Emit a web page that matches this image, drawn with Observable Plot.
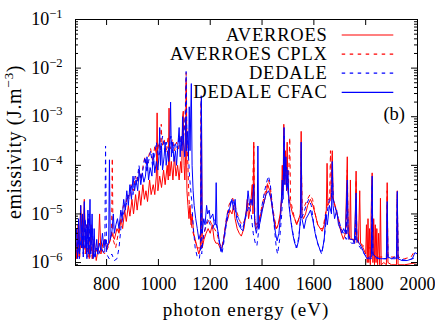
<!DOCTYPE html>
<html><head><meta charset="utf-8">
<script src="https://cdn.jsdelivr.net/npm/d3@7"></script>
<script src="https://cdn.jsdelivr.net/npm/@observablehq/plot@0.6"></script>
<style>body{margin:0;background:#fff}svg{display:block}</style>
</head><body><div id="chart"></div>
<script>
// [photon energy (eV), emissivity (J.m^-3)]
const averroes = [[680,3e-6],[684,1.2e-6],[690,6e-6],[694,1.3e-6],[700,1.5e-5],[708,2e-6],[714,2e-5],[720,1.5e-6],[728,8e-6],[733,1.2e-6],[740,6e-6],[746,1.2e-6],[752,3e-6],[760,1.1e-6],[768,2e-6],[773,1e-5],[778,1.5e-6],[786,2.5e-6],[792,3e-6],[800,2e-6],[810,2.5e-6],[820,4e-6],[830,3e-6],[840,5e-6],[848,4e-6],[856,8e-6],[862,5e-6],[870,1.2e-5],[876,7e-6],[884,1.5e-5],[890,9e-6],[898,2e-5],[904,1e-5],[912,2.5e-5],[918,1.2e-5],[926,3e-5],[932,1.5e-5],[940,4e-5],[946,2e-5],[952,3e-5],[958,1.8e-5],[966,5e-5],[972,2.5e-5],[980,4e-5],[986,2.5e-5],[992,6e-5],[995,1.2e-3],[998,3e-5],[1005,6e-5],[1012,3.5e-5],[1020,8e-5],[1026,4e-5],[1034,1e-4],[1038,5e-5],[1041,1.5e-3],[1044,6e-5],[1050,1.2e-4],[1056,5e-5],[1062,1.5e-4],[1068,6e-5],[1074,1e-4],[1080,5e-5],[1086,1.2e-4],[1090,7e-5],[1093,9.5e-4],[1096,1.3e-3],[1099,1e-4],[1102,5e-5],[1105,1.5e-4],[1107,5e-3],[1110,3e-5],[1114,1.5e-5],[1118,8e-6],[1122,1.5e-5],[1126,6e-6],[1130,1e-5],[1136,4e-6],[1142,3e-6],[1150,2e-6],[1156,1.5e-6],[1162,2e-6],[1166,2.3e-3],[1169,2e-6],[1176,3e-6],[1184,4e-6],[1192,5e-6],[1200,4e-6],[1208,6e-6],[1215,3e-6],[1222,2.5e-6],[1230,2.5e-6],[1238,2e-6],[1245,2e-6],[1252,3e-6],[1260,6e-6],[1268,8e-6],[1276,1.2e-5],[1284,1e-5],[1290,1.5e-5],[1296,8e-6],[1304,5e-6],[1312,4e-6],[1320,3.5e-6],[1330,5e-6],[1338,1e-5],[1343,2e-5],[1348,8e-6],[1356,1.5e-5],[1362,4e-5],[1365,1e-5],[1368,3e-4],[1371,8e-6],[1378,5e-6],[1386,6e-6],[1395,1e-5],[1405,1.5e-5],[1415,2.5e-5],[1422,4e-5],[1430,3e-5],[1438,1.5e-5],[1446,8e-6],[1454,5e-6],[1462,6e-6],[1470,1e-5],[1475,2e-5],[1478,1e-4],[1481,3e-5],[1484,7e-4],[1487,5e-5],[1490,2e-4],[1493,4e-5],[1497,3e-4],[1500,3e-5],[1505,2e-5],[1510,1.5e-5],[1518,1e-5],[1526,8e-6],[1534,6e-6],[1542,8e-6],[1548,1e-5],[1551,5e-4],[1554,1e-5],[1560,8e-6],[1568,1e-5],[1576,1.5e-5],[1587,2e-5],[1596,1.5e-5],[1605,1e-5],[1615,6e-6],[1625,5e-6],[1632,4.4e-6],[1640,6e-6],[1648,1.2e-5],[1651,1.1e-4],[1654,1.5e-5],[1665,2e-5],[1671,2e-4],[1675,2e-5],[1682,1.5e-5],[1690,1e-5],[1698,6e-6],[1706,4e-6],[1714,3e-6],[1722,4e-6],[1729,1.5e-4],[1732,4e-6],[1738,3e-6],[1741,5e-5],[1744,3e-6],[1752,3e-6],[1758,2.5e-6],[1763,7.6e-5],[1766,3e-6],[1772,2.5e-6],[1777,3e-5],[1780,2.5e-6],[1790,2e-6],[1800,1.5e-6],[1803,6e-6],[1806,1e-6],[1809,8e-6],[1812,1e-6],[1815,5e-6],[1818,9e-7],[1821,1e-5],[1825,7e-5],[1828,1e-6],[1831,8e-6],[1834,9e-7],[1837,6e-6],[1840,1e-6],[1843,5e-6],[1846,9e-7],[1850,4e-6],[1854,9e-7],[1857,2.1e-5],[1860,9e-7],[1870,1e-6],[1880,9e-7],[1883,4.4e-5],[1886,1e-6],[1900,9e-7],[1919,9e-7],[1922,3e-5],[1925,9e-7],[1950,9e-7],[2000,1e-6]];

const averroesCplx = [[680,1.5e-6],[690,4e-6],[696,1.2e-6],[706,1e-5],[712,1.5e-6],[722,6e-6],[728,1.3e-6],[738,5e-6],[744,1.2e-6],[756,2e-6],[768,1.5e-6],[780,2e-6],[792,1.5e-6],[805,2e-6],[815,3e-6],[819,3e-6],[822,1.4e-4],[825,3e-6],[835,2e-6],[845,4e-6],[855,8e-6],[865,1.5e-5],[872,1.2e-5],[880,2.5e-5],[888,2e-5],[895,4e-5],[903,3e-5],[912,6e-5],[918,4.5e-5],[926,8e-5],[934,5e-5],[941,1e-4],[948,1.5e-4],[955,8e-5],[962,1.5e-4],[970,2.2e-4],[978,1.2e-4],[986,2.5e-4],[994,1.5e-4],[1002,3e-4],[1008,2e-4],[1011,7e-4],[1014,2.5e-4],[1022,3.5e-4],[1030,1.8e-4],[1038,4e-4],[1046,2.2e-4],[1054,3.5e-4],[1062,2e-4],[1070,3e-4],[1078,2.2e-4],[1085,4e-4],[1092,2.5e-4],[1100,5e-4],[1104,1.5e-3],[1107,8e-3],[1110,3e-4],[1114,1e-4],[1118,2e-5],[1124,8e-6],[1130,5e-6],[1140,3e-6],[1150,2e-6],[1162,2e-6],[1165,2e-3],[1168,2e-6],[1176,4e-6],[1186,6e-6],[1196,8e-6],[1206,6e-6],[1216,5e-6],[1226,4e-6],[1236,2.5e-6],[1244,2e-6],[1252,3e-6],[1262,8e-6],[1272,1.5e-5],[1282,2e-5],[1287,2.1e-5],[1295,1.5e-5],[1305,1e-5],[1315,7e-6],[1325,6e-6],[1335,8e-6],[1345,1.5e-5],[1355,2e-5],[1362,1.5e-5],[1368,2.5e-4],[1372,8e-6],[1380,6e-6],[1390,8e-6],[1400,1.5e-5],[1410,2.5e-5],[1420,4e-5],[1425,5e-5],[1432,3.5e-5],[1440,1.5e-5],[1448,8e-6],[1456,5e-6],[1464,6e-6],[1472,1e-5],[1478,3e-5],[1482,1e-4],[1485,4e-5],[1490,8e-5],[1495,3e-5],[1502,4e-5],[1507,3.7e-4],[1510,2e-5],[1518,1.2e-5],[1526,8e-6],[1534,6e-6],[1542,8e-6],[1548,1e-5],[1551,2e-4],[1555,1.2e-5],[1565,1.5e-5],[1575,2e-5],[1585,2.5e-5],[1595,2e-5],[1605,1e-5],[1615,6e-6],[1625,5e-6],[1635,5e-6],[1645,1e-5],[1655,2e-5],[1661,2e-5],[1664,2e-4],[1668,2.5e-5],[1675,2e-5],[1685,1.2e-5],[1695,8e-6],[1705,5e-6],[1715,4e-6],[1725,4e-6],[1729,8e-5],[1733,4e-6],[1745,3e-6],[1760,3e-6],[1763,5e-5],[1766,3e-6],[1780,2.5e-6],[1800,2e-6],[1822,2e-6],[1825,5e-5],[1828,1.5e-6],[1850,1.3e-6],[1880,1.3e-6],[1883,3e-5],[1886,1.3e-6],[1919,1.3e-6],[1922,2.5e-5],[1925,1.3e-6],[1950,1.2e-6],[1975,1.3e-6],[1985,1.6e-6],[2000,1.5e-6]];

const dedale = [[680,1.5e-6],[690,3e-6],[695,1.2e-6],[705,6e-6],[710,1.5e-6],[718,8e-6],[722,1.5e-6],[732,1e-5],[736,1.3e-6],[745,5e-6],[750,1.2e-6],[760,2e-6],[770,1.5e-6],[780,2e-6],[790,1.5e-6],[793,1.5e-6],[796,2.5e-4],[800,1.5e-6],[810,1.2e-6],[820,1.5e-6],[830,1.1e-6],[840,1.2e-6],[848,2e-6],[855,5e-6],[865,1e-5],[875,1.5e-5],[885,2.5e-5],[895,4e-5],[902,2.5e-5],[910,6e-5],[916,4e-5],[925,1e-4],[932,5e-5],[940,8e-5],[948,1.5e-4],[955,7e-5],[962,1.2e-4],[970,2e-4],[978,9e-5],[985,1.5e-4],[992,3e-4],[1000,1.5e-4],[1008,2e-4],[1016,4e-4],[1024,2e-4],[1032,3e-4],[1040,2e-4],[1048,4e-4],[1056,1.8e-4],[1064,3e-4],[1072,2e-4],[1080,4e-4],[1088,2.5e-4],[1095,3.5e-4],[1100,6e-4],[1104,1e-3],[1107,8.5e-3],[1110,5e-4],[1115,2e-4],[1120,6e-5],[1128,2e-5],[1135,5e-6],[1142,2e-6],[1150,1.3e-6],[1158,1.2e-6],[1163,2e-6],[1165,2.7e-3],[1167,1.5e-6],[1172,3e-6],[1180,5e-6],[1190,8e-6],[1200,6e-6],[1210,5e-6],[1220,8e-6],[1230,4e-6],[1238,2e-6],[1245,1.5e-6],[1252,2.5e-6],[1262,6e-6],[1272,1.2e-5],[1282,2e-5],[1290,1.8e-5],[1300,1e-5],[1310,8e-6],[1320,5e-6],[1330,6e-6],[1340,1e-5],[1350,1.5e-5],[1358,1e-5],[1366,4e-6],[1374,2.5e-6],[1380,2.2e-6],[1390,6e-6],[1400,1.5e-5],[1410,3e-5],[1420,5e-5],[1425,6e-5],[1432,4e-5],[1440,1.5e-5],[1448,5e-6],[1455,2e-6],[1460,1.5e-6],[1468,3e-6],[1476,1e-5],[1482,5e-5],[1485,4e-4],[1488,6e-5],[1495,1e-4],[1500,3e-5],[1508,1e-5],[1516,5e-6],[1524,3e-6],[1532,2e-6],[1540,3e-6],[1550,8e-6],[1560,1e-5],[1570,1.5e-5],[1580,2e-5],[1590,1.5e-5],[1600,6e-6],[1610,3e-6],[1620,2e-6],[1630,1.5e-6],[1640,3e-6],[1650,1e-5],[1660,2e-5],[1668,2e-5],[1671,8e-5],[1675,2e-5],[1685,1.2e-5],[1695,8e-6],[1705,5e-6],[1715,4e-6],[1725,3e-6],[1729,3e-5],[1733,3e-6],[1745,2.5e-6],[1760,2.5e-6],[1763,2e-5],[1766,2.5e-6],[1780,2e-6],[1795,1.5e-6],[1810,1.2e-6],[1822,1.2e-6],[1825,4e-5],[1828,1.3e-6],[1850,1.2e-6],[1880,1.2e-6],[1883,1e-5],[1886,1.2e-6],[1919,1.2e-6],[1922,2e-5],[1925,1.2e-6],[1960,1.1e-6],[2000,1.3e-6]];

const dedaleCfac = [[680,2e-6],[684,5e-6],[688,1.2e-6],[692,8e-6],[695,1.5e-6],[700,1.5e-5],[703,2e-6],[707,1e-5],[710,1.3e-6],[714,1.8e-5],[717,2e-6],[721,6e-6],[724,1.2e-6],[728,1.2e-5],[731,1.5e-6],[736,2e-5],[739,1.5e-6],[744,1e-5],[748,1.2e-6],[752,5e-6],[756,1.3e-6],[762,3e-6],[766,1.5e-6],[772,2.5e-6],[778,1.8e-6],[784,4e-6],[790,2e-6],[795,3e-6],[800,1.8e-6],[805,2.5e-6],[808,2.5e-6],[811,1.3e-4],[814,3e-6],[820,4e-6],[826,1e-5],[830,4e-6],[836,6e-6],[842,8e-6],[848,5e-6],[855,1.2e-5],[860,8e-6],[866,2e-5],[872,1.2e-5],[878,3e-5],[884,1.5e-5],[890,4e-5],[896,2e-5],[902,6e-5],[908,3e-5],[914,5e-5],[920,3e-5],[926,8e-5],[932,4e-5],[938,7e-5],[944,4.5e-5],[950,6e-5],[956,1.5e-4],[962,5e-5],[968,9e-5],[975,6e-5],[980,1.8e-4],[986,7e-5],[992,1.2e-4],[998,8e-5],[1002,1.5e-4],[1005,6e-4],[1008,1e-4],[1012,2.5e-4],[1016,8e-5],[1022,1.5e-4],[1026,3e-4],[1030,1e-4],[1036,2e-4],[1040,1.2e-4],[1044,2.5e-4],[1047,2e-3],[1050,1.5e-4],[1055,3e-4],[1060,1.2e-4],[1066,2e-4],[1070,1e-4],[1075,2.5e-4],[1080,6e-4],[1084,1.5e-4],[1088,4e-4],[1091,2e-4],[1094,1e-3],[1097,3e-4],[1102,1.5e-4],[1106,1e-3],[1108,2e-4],[1113,5e-4],[1116,1.5e-4],[1119,1.6e-3],[1122,2e-4],[1127,4.8e-3],[1130,1e-4],[1134,3e-5],[1138,1.5e-5],[1144,8e-6],[1150,5e-6],[1156,3e-6],[1163,4e-6],[1166,2.5e-3],[1169,4e-6],[1175,8e-6],[1180,6e-6],[1186,1.5e-5],[1190,1e-5],[1196,1.2e-5],[1200,8e-6],[1210,1e-5],[1216,6e-6],[1220,6e-6],[1223,4.4e-5],[1226,6e-6],[1234,3e-6],[1242,1.7e-6],[1250,2.5e-6],[1258,5e-6],[1266,1e-5],[1275,1.3e-5],[1284,2e-5],[1290,1.2e-5],[1296,2e-5],[1302,8e-6],[1310,6e-6],[1318,5e-6],[1326,4.5e-6],[1334,8e-6],[1340,1.2e-5],[1346,3e-5],[1352,1.5e-5],[1358,2e-5],[1362,1.5e-5],[1368,4e-5],[1372,6e-6],[1378,4e-6],[1381,5e-6],[1384,2.5e-4],[1387,5e-6],[1395,8e-6],[1405,1.5e-5],[1415,2.5e-5],[1425,3e-5],[1435,2e-5],[1445,8e-6],[1452,4e-6],[1458,2.8e-6],[1465,4e-6],[1472,1e-5],[1478,5e-5],[1481,2e-5],[1485,6e-4],[1488,4e-5],[1492,1.5e-4],[1495,3e-5],[1500,8e-5],[1504,1.5e-5],[1510,8e-6],[1518,4e-6],[1526,2.5e-6],[1534,2e-6],[1542,3e-6],[1548,8e-6],[1551,3e-4],[1554,8e-6],[1562,5e-6],[1570,8e-6],[1580,1e-5],[1587,1.2e-5],[1595,8e-6],[1605,4e-6],[1615,2.5e-6],[1624,1.8e-6],[1632,1.7e-6],[1640,3e-6],[1646,1e-5],[1652,6e-6],[1660,1.5e-5],[1668,1e-5],[1671,1.2e-4],[1674,1.5e-5],[1680,8e-6],[1688,1.2e-5],[1695,6e-6],[1702,5e-6],[1708,4e-6],[1715,5e-6],[1722,4e-6],[1729,5e-5],[1732,4e-6],[1740,3e-6],[1750,3e-6],[1756,2.5e-6],[1763,2.7e-5],[1766,3e-6],[1775,2.5e-6],[1785,2e-6],[1795,1.5e-6],[1805,1.2e-6],[1815,1.3e-6],[1822,1.3e-6],[1825,6e-5],[1828,1.5e-6],[1840,1.3e-6],[1855,1.2e-6],[1870,1.2e-6],[1880,1.2e-6],[1883,1.8e-5],[1886,1.3e-6],[1900,1.2e-6],[1910,1.3e-6],[1919,1.2e-6],[1922,2.9e-5],[1925,1.2e-6],[1940,1.1e-6],[1960,1.1e-6],[1980,1.2e-6],[1990,1.6e-6],[2000,1.5e-6]];

const seriesNames = ["AVERROES", "AVERROES CPLX", "DEDALE", "DEDALE CFAC"];
const seriesData = [averroes, averroesCplx, dedale, dedaleCfac];
const seriesColors = ["#ff0000", "#ff0000", "#0000ff", "#0000ff"];
const seriesDash = ["none", "3.5,4.5", "3.5,4.5", "none"];
const xTicks = [800, 1000, 1200, 1400, 1600, 1800, 2000];
const yTicks = [1e-6, 1e-5, 1e-4, 1e-3, 1e-2, 1e-1];
const yTickExponents = ["−6", "−5", "−4", "−3", "−2", "−1"];
const xLabel = "photon energy (eV)";
const yLabel = "emissivity (J.m";
const yLabelExp = "−3";
const panelTag = "(b)";

const W = 435, H = 327, mL = 75, mR = 18, mT = 19, mB = 62;
const fw = W - mL - mR, fh = H - mT - mB;
const yMinor = [];
for (let e = -7; e <= -2; e++) for (let m = 2; m <= 9; m++) {
  const v = m * Math.pow(10, e);
  if (v >= 8.7e-7 && v <= 0.1) yMinor.push(v);
}
const font = "'Liberation Serif', 'Times New Roman', serif";

const marks = [];
seriesData.forEach((arr, i) => {
  marks.push(Plot.line(arr, {x: d => d[0], y: d => d[1], stroke: seriesColors[i], strokeWidth: 1,
    strokeDasharray: seriesDash[i], clip: true}));
});
marks.push(
  Plot.tickX(xTicks, {x: d => d, insetTop: fh - 6, stroke: "#000"}),
  Plot.tickX(xTicks, {x: d => d, insetBottom: fh - 6, stroke: "#000"}),
  Plot.tickY(yTicks, {y: d => d, insetRight: fw - 6, stroke: "#000"}),
  Plot.tickY(yTicks, {y: d => d, insetLeft: fw - 6, stroke: "#000"}),
  Plot.tickY(yMinor, {y: d => d, insetRight: fw - 3, stroke: "#000"}),
  Plot.tickY(yMinor, {y: d => d, insetLeft: fw - 3, stroke: "#000"}),
  Plot.frame({stroke: "#000", strokeWidth: 1}),
  Plot.axisX(xTicks, {tickSize: 0, tickPadding: 12, fontSize: 18, label: null, tickFormat: d => String(d)}),
  Plot.axisY(yTicks, {tickSize: 0, tickPadding: 13, fontSize: 18, label: null,
    tickFormat: d => "10|" + yTickExponents[yTicks.indexOf(d)]})
);

const svg = Plot.plot({
  width: W, height: H, marginLeft: mL, marginRight: mR, marginTop: mT, marginBottom: mB,
  style: {fontFamily: font, fontSize: "18px", color: "#000", background: "#fff"},
  x: {domain: [680, 2000]},
  y: {type: "log", domain: [8.7e-7, 1e-1]},
  marks
});

const s = d3.select(svg);
s.selectAll('g[aria-label="y-axis tick label"] text').each(function () {
  const parts = this.textContent.split("|");
  const t = d3.select(this);
  t.text(null);
  t.append("tspan").text(parts[0]);
  t.append("tspan").attr("dy", "-7").attr("font-size", "12.5px").text(parts[1]);
});

// axis titles
s.append("text").attr("x", mL + fw / 2).attr("y", 316).attr("text-anchor", "middle")
  .attr("font-family", font).attr("font-size", "19px").attr("letter-spacing", "1px").text(xLabel);
const yl = s.append("text").attr("transform", `translate(20.5,${mT + fh / 2}) rotate(-90)`)
  .attr("text-anchor", "middle").attr("font-family", font).attr("font-size", "20px").attr("letter-spacing", "0.6px");
yl.append("tspan").text(yLabel);
yl.append("tspan").attr("dy", "-8").attr("font-size", "13.5px").text(yLabelExp);
yl.append("tspan").attr("dy", "8").text(")");

// legend
const lg = s.append("g").attr("font-family", font).attr("font-size", "18.5px");
seriesNames.forEach((name, i) => {
  const yy = 35 + i * 19.1;
  lg.append("text").attr("x", 327.7).attr("y", yy).attr("dy", "0.33em").attr("text-anchor", "end")
    .attr("letter-spacing", "0.8px").text(name);
  lg.append("line").attr("x1", 341.7).attr("x2", 393.3).attr("y1", yy).attr("y2", yy)
    .attr("stroke", seriesColors[i]).attr("stroke-width", 1.2)
    .attr("stroke-dasharray", seriesDash[i]);
});
lg.append("text").attr("x", 405).attr("y", 119.5).attr("text-anchor", "end").text(panelTag);

document.getElementById("chart").appendChild(svg);
</script>
</body></html>
